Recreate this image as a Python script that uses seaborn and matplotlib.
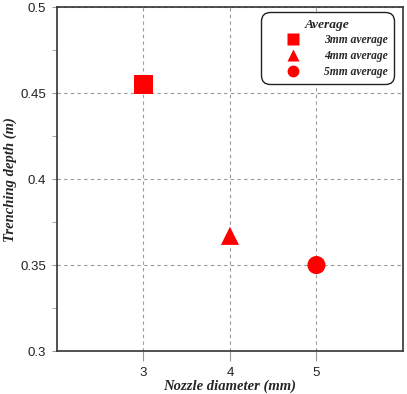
import seaborn as sns
import matplotlib.pyplot as plt
import pandas as pd
from matplotlib.ticker import MultipleLocator

# 数据
diameter = [3, 4, 5]
depth = [0.455, 0.367, 0.350]
labels = ['3mm average', '4mm average', '5mm average']
markers = ['s', '^', 'o']

df = pd.DataFrame({'diameter': diameter, 'depth': depth, 'group': labels})

sns.set_style('ticks')
plt.rcParams['font.family'] = ['Liberation Sans', 'DejaVu Sans']

fig = plt.figure(figsize=(4.07, 3.94), dpi=100)
ax = fig.add_axes([0.140, 0.109, 0.850, 0.873])

sns.scatterplot(data=df, x='diameter', y='depth', hue='group', style='group',
                markers=dict(zip(labels, markers)), palette=['red'] * 3,
                s=170, edgecolor='none', ax=ax, zorder=3)

ax.set_xlim(2, 6)
ax.set_ylim(0.3, 0.5)
ax.set_xticks([3, 4, 5])
ax.set_yticks([0.3, 0.35, 0.4, 0.45, 0.5])
ax.set_yticklabels(['0.3', '0.35', '0.4', '0.45', '0.5'])
ax.yaxis.set_minor_locator(MultipleLocator(0.025))
ax.grid(True, which='major', linestyle=(0, (3, 3)), color='#999999', linewidth=0.8)
ax.tick_params(axis='both', which='both', direction='out', color='#999999',
               labelsize=9.5, labelcolor='#222222')
ax.tick_params(axis='x', length=7, pad=4.5)
ax.tick_params(axis='y', which='major', length=3.6, pad=4.3)
ax.tick_params(axis='y', which='minor', length=3.6)
for sp in ax.spines.values():
    sp.set_color('#333333')
    sp.set_linewidth(1.2)

font_lab = dict(family='Liberation Serif', weight='bold', style='italic', size=10.5)
ax.set_xlabel('Nozzle diameter (mm)', fontdict=font_lab, labelpad=0.5)
ax.set_ylabel('Trenching depth (m)', fontdict=font_lab, labelpad=2)

leg = ax.legend(title='Average', loc='upper right', bbox_to_anchor=(0.974, 0.985),
                borderaxespad=0, frameon=True, fancybox=True,
                edgecolor='#222222', framealpha=1,
                prop=dict(family='Liberation Serif', weight='bold', style='italic', size=8.3),
                markerscale=0.65, handlelength=4.5, handletextpad=0.4,
                labelspacing=0.32, borderpad=0.55, markerfirst=True)
leg.get_title().set_fontproperties(dict(family='Liberation Serif', weight='bold',
                                        style='italic', size=9.7))
leg.get_frame().set_linewidth(1.0)
leg.get_frame().set_boxstyle('round,pad=0,rounding_size=0.8')

fig.savefig('out.png', dpi=100)
